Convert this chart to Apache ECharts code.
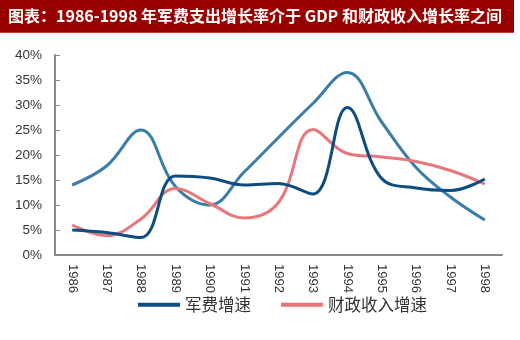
<!DOCTYPE html>
<html><head><meta charset="utf-8">
<script src="https://cdn.jsdelivr.net/npm/echarts@6/dist/echarts.min.js"></script>
<style>html,body{margin:0;padding:0;background:#fff}#c{width:520px;height:340px}</style>
</head><body><div id="c"></div>
<script>
const titleText = '图表：1986-1998 年军费支出增长率介于 GDP 和财政收入增长率之间';
const years = ['1986','1987','1988','1989','1990','1991','1992','1993','1994','1995','1996','1997','1998'];
const militaryGrowth = [5.0, 4.5, 3.5, 15.8, 15.4, 14.0, 14.3, 12.2, 29.5, 15.3, 13.4, 12.9, 15.2];
const fiscalGrowth   = [6.0, 3.9, 7.2, 13.3, 10.3, 7.4, 10.5, 25.1, 20.3, 19.6, 18.7, 16.9, 14.2];
const gdpGrowth      = [14.0, 17.8, 25.0, 13.7, 10.0, 16.6, 23.5, 30.3, 36.5, 26.6, 17.5, 11.6, 7.0];
const yTicks = [0, 5, 10, 15, 20, 25, 30, 35, 40];

const chart = echarts.init(document.getElementById('c'));
chart.setOption({
  animation: false,
  graphic: [
    {type:'rect', left:0, top:0, shape:{width:514, height:33}, style:{fill:'#990000'}},
    {type:'rect', left:0, top:32, shape:{width:514, height:1}, style:{fill:'#c04040'}},
    {type:'text', left:8, top:8, style:{text:titleText, fill:'#fff', font:'bold 16px "Noto Sans CJK SC"'}}
  ],
  grid: {left:55, right:18, top:55, bottom:85},
  legend: {
    bottom: 22, left: 133, itemWidth: 42, itemHeight: 4, itemGap: 30,
    icon: 'rect',
    textStyle: {fontSize: 16.5, color:'#333', fontFamily:'"Noto Sans CJK SC"'},
    data: ['军费增速','财政收入增速']
  },
  xAxis: {
    type:'category', data: years, boundaryGap: true,
    axisLine: {lineStyle:{color:'#888', width:2}},
    axisTick: {inside:true, length:5, lineStyle:{color:'#888'}},
    axisLabel: {rotate:-90, fontSize:13, color:'#333', margin:9, fontFamily:'Arial'}
  },
  yAxis: {
    type:'value', min:0, max:40, interval:5,
    splitLine: {show:false},
    axisLine: {show:true, lineStyle:{color:'#888', width:2}},
    axisTick: {show:true, inside:true, length:5, lineStyle:{color:'#888'}},
    axisLabel: {formatter: v => yTicks.includes(v) ? v + '%' : '', fontSize:13.5, color:'#333', margin:13, fontFamily:'Arial'}
  },
  series: [
    {name:'GDP增速', type:'line', data: gdpGrowth, smooth:0.4, symbol:'none', lineStyle:{color:'#3A7DA8', width:3}, itemStyle:{color:'#3A7DA8'}},
    {name:'财政收入增速', type:'line', data: fiscalGrowth, smooth:0.4, symbol:'none', lineStyle:{color:'#E8767A', width:3}, itemStyle:{color:'#E8767A'}},
    {name:'军费增速', type:'line', data: militaryGrowth, smooth:0.4, symbol:'none', lineStyle:{color:'#0E4D82', width:3}, itemStyle:{color:'#0E4D82'}}
  ]
});
</script></body></html>
